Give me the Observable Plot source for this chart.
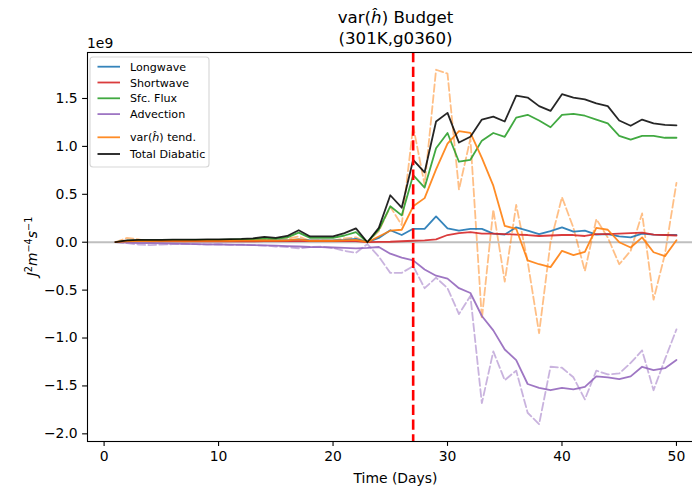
<!DOCTYPE html>
<html>
<head>
<meta charset="utf-8">
<script src="https://cdn.jsdelivr.net/npm/d3@7"></script>
<script src="https://cdn.jsdelivr.net/npm/@observablehq/plot@0.6"></script>
<style>
  html, body { margin: 0; padding: 0; background: white; overflow: hidden; }
  #chart { position: relative; width: 692px; height: 488px; overflow: hidden; }
  #chart svg { max-width: none !important; width: 720px !important; height: 488px !important; display: block; }
</style>
</head>
<body>
<div id="chart"></div>
<script>
// ---- data (values in units of 1e9 J^2 m^-4 s^-1) ----
const days = d3.range(1, 51);

const longwave = [0.0, 0.01, 0.012, 0.012, 0.012, 0.013, 0.013, 0.014, 0.014, 0.015,
  0.015, 0.016, 0.017, 0.02, 0.018, 0.02, 0.03, 0.02, 0.02, 0.02,
  0.025, 0.035, 0.0, 0.045, 0.125, 0.075, 0.14, 0.14, 0.27, 0.145,
  0.12, 0.14, 0.14, 0.09, 0.08, 0.155, 0.12, 0.085, 0.115, 0.155,
  0.11, 0.12, 0.08, 0.085, 0.06, 0.05, 0.09, 0.08, 0.075, 0.075];

const shortwave = [0.0, 0.008, 0.009, 0.009, 0.01, 0.01, 0.01, 0.01, 0.01, 0.01,
  0.01, 0.01, 0.01, 0.011, 0.011, 0.011, 0.012, 0.011, 0.011, 0.011,
  0.011, 0.011, 0.0, 0.003, 0.005, 0.01, 0.015, 0.02, 0.03, 0.075,
  0.095, 0.105, 0.09, 0.09, 0.085, 0.08, 0.075, 0.065, 0.07, 0.075,
  0.075, 0.065, 0.085, 0.085, 0.09, 0.095, 0.1, 0.08, 0.075, 0.07];

const sfcFlux = [0.0, 0.015, 0.02, 0.02, 0.02, 0.022, 0.022, 0.023, 0.024, 0.025,
  0.027, 0.03, 0.032, 0.04, 0.035, 0.05, 0.1, 0.045, 0.045, 0.045,
  0.07, 0.105, 0.0, 0.13, 0.375, 0.28, 0.70, 0.57, 0.98, 1.14,
  0.84, 0.86, 1.06, 1.14, 1.10, 1.30, 1.33, 1.27, 1.20, 1.33,
  1.34, 1.32, 1.28, 1.24, 1.11, 1.07, 1.11, 1.11, 1.09, 1.09];

const advection = [0.0, -0.005, -0.01, -0.01, -0.012, -0.015, -0.017, -0.02, -0.022, -0.024,
  -0.026, -0.028, -0.03, -0.033, -0.036, -0.04, -0.045, -0.05, -0.052, -0.055,
  -0.06, -0.065, -0.06, -0.05, -0.12, -0.16, -0.19, -0.285, -0.35, -0.38,
  -0.48, -0.53, -0.77, -0.92, -1.12, -1.23, -1.48, -1.52, -1.545, -1.52,
  -1.535, -1.51, -1.40, -1.41, -1.43, -1.40, -1.30, -1.335, -1.315, -1.23];

const varTend = [0.0, 0.01, 0.012, 0.012, 0.013, 0.013, 0.014, 0.014, 0.015, 0.015,
  0.015, 0.016, 0.016, 0.018, 0.017, 0.02, 0.03, 0.015, 0.015, 0.015,
  0.02, 0.025, 0.0, 0.06, 0.12, 0.13, 0.375, 0.46, 0.76, 1.03,
  1.16, 1.14, 0.88, 0.59, 0.17, 0.14, -0.19, -0.23, -0.26, -0.09,
  -0.135, -0.10, 0.15, 0.13, 0.0, -0.055, 0.05, -0.105, -0.145, 0.02];

const totalDiabatic = [0.0, 0.02, 0.025, 0.025, 0.025, 0.027, 0.027, 0.028, 0.03, 0.03,
  0.033, 0.035, 0.04, 0.055, 0.045, 0.065, 0.125, 0.06, 0.06, 0.06,
  0.095, 0.145, 0.0, 0.15, 0.49, 0.36, 0.86, 0.73, 1.26, 1.35,
  1.04, 1.10, 1.28, 1.31, 1.26, 1.53, 1.51, 1.42, 1.37, 1.545,
  1.51, 1.49, 1.45, 1.42, 1.27, 1.215, 1.28, 1.24, 1.225, 1.22];

// raw (unsmoothed) series drawn dashed
const varTendRaw = [0.0, 0.045, 0.03, 0.005, 0.01, 0.015, 0.01, 0.015, 0.02, 0.015,
  0.02, 0.02, 0.025, 0.03, 0.02, 0.035, 0.06, 0.015, 0.02, 0.015,
  0.04, 0.05, 0.0, 0.115, 0.37, 0.18, 1.21, 0.60, 1.80, 1.76,
  0.55, 1.08, -0.80, 0.34, -0.41, 0.39, -0.20, -0.95, 0.0, 0.47,
  0.15, -0.30, 0.24, 0.05, -0.23, -0.09, 0.30, -0.60, -0.12, 0.62];

const advectionRaw = [0.0, -0.01, -0.025, -0.03, -0.025, -0.02, -0.02, -0.02, -0.025, -0.02,
  -0.03, -0.025, -0.03, -0.035, -0.045, -0.05, -0.065, -0.05, -0.045, -0.06,
  -0.09, -0.11, -0.02, -0.15, -0.32, -0.32, -0.25, -0.48, -0.37, -0.48,
  -0.75, -0.56, -1.68, -1.14, -1.44, -1.34, -1.78, -1.90, -1.30, -1.31,
  -1.41, -1.64, -1.34, -1.38, -1.37, -1.26, -1.13, -1.545, -1.22, -0.91];

const eventDay = 27;
const xTicks = [0, 10, 20, 30, 40, 50];
const yTicks = [-2.0, -1.5, -1.0, -0.5, 0.0, 0.5, 1.0, 1.5];

const seriesNames = ["Longwave", "Shortwave", "Sfc. Flux", "Advection", "var(ĥ) tend.", "Total Diabatic"];
const seriesColors = ["#1f77b4", "#d62728", "#2ca02c", "#9467bd", "#ff7f0e", "#000000"];
const seriesValues = [longwave, shortwave, sfcFlux, advection, varTend, totalDiabatic];

const toRows = (vals) => vals.map((v, i) => ({day: days[i], value: v}));

const LW = 1.8;
const marks = [
  Plot.ruleY([0], {stroke: "#808080", strokeOpacity: 0.5, strokeWidth: 2}),
  Plot.line(toRows(varTendRaw), {x: "day", y: "value", stroke: "#ff7f0e", strokeOpacity: 0.5, strokeWidth: LW, strokeDasharray: "7.7,3.3"}),
  Plot.line(toRows(advectionRaw), {x: "day", y: "value", stroke: "#9467bd", strokeOpacity: 0.5, strokeWidth: LW, strokeDasharray: "7.7,3.3"}),
  ...seriesValues.map((vals, k) => Plot.line(toRows(vals), {
    x: "day", y: "value", stroke: seriesColors[k], strokeWidth: LW, strokeOpacity: k === 5 ? 0.85 : 0.9
  })),
  Plot.ruleX([eventDay], {stroke: "#ff0000", strokeWidth: 2.6, strokeDasharray: "10.3,4.4"}),
  Plot.frame({stroke: "black", strokeWidth: 1.1}),
  Plot.axisX({ticks: xTicks, tickFormat: d3.format("d"), tickSize: 4.9, tickPadding: 4.9, strokeWidth: 1.1, label: null}),
  Plot.axisY({ticks: yTicks, tickFormat: d3.format(".1f"), tickSize: 4.9, tickPadding: 4.9, strokeWidth: 1.1, label: null})
];

const chart = Plot.plot({
  width: 720,
  height: 488,
  marginLeft: 87,
  marginRight: 16,
  marginTop: 52,
  marginBottom: 47,
  x: {domain: [-1.45, 52.45], axis: null},
  y: {domain: [-2.08, 1.98], axis: null},
  style: {fontFamily: "DejaVu Sans", fontSize: "13.9px", color: "black", background: "white"},
  marks
});

document.getElementById("chart").appendChild(chart);

// ---- annotations: title, axis labels, offset text, legend ----
const svg = d3.select(chart);
const xr = chart.scale("x").range;
const yr = chart.scale("y").range;
const cx = (xr[0] + xr[1]) / 2;
const cy = (yr[0] + yr[1]) / 2;
const font = "DejaVu Sans";

const t1 = svg.append("text").attr("x", cx).attr("y", 23).attr("text-anchor", "middle")
  .attr("font-family", font).attr("font-size", 16.67).attr("fill", "black");
t1.append("tspan").text("var(");
t1.append("tspan").attr("font-style", "italic").text("ĥ");
t1.append("tspan").text(") Budget");

svg.append("text").attr("x", cx).attr("y", 44).attr("text-anchor", "middle")
  .attr("font-family", font).attr("font-size", 16.67).attr("fill", "black")
  .text("(301K,g0360)");

svg.append("text").attr("x", xr[0]).attr("y", 48).attr("text-anchor", "start")
  .attr("font-family", font).attr("font-size", 13.9).attr("fill", "black").text("1e9");

svg.append("text").attr("x", cx).attr("y", 483).attr("text-anchor", "middle")
  .attr("font-family", font).attr("font-size", 13.9).attr("fill", "black").text("Time (Days)");

const yl = svg.append("text").attr("transform", `translate(37,${cy}) rotate(-90)`).attr("text-anchor", "middle")
  .attr("font-family", font).attr("font-size", 13.9).attr("fill", "black");
yl.append("tspan").attr("font-style", "italic").text("J");
yl.append("tspan").attr("font-size", 9.7).attr("dy", -5.5).text("2");
yl.append("tspan").attr("font-style", "italic").attr("dy", 5.5).text("m");
yl.append("tspan").attr("font-size", 9.7).attr("dy", -5.5).text("−4");
yl.append("tspan").attr("font-style", "italic").attr("dy", 5.5).text("s");
yl.append("tspan").attr("font-size", 9.7).attr("dy", -5.5).text("−1");

// legend
const lg = svg.append("g");
lg.append("rect").attr("x", 90).attr("y", 57).attr("width", 119).attr("height", 110).attr("rx", 3)
  .attr("fill", "white").attr("fill-opacity", 0.8).attr("stroke", "#cccccc").attr("stroke-opacity", 0.8).attr("stroke-width", 1.1);
const rowY = [66.7, 82.5, 98.3, 114.1, 137.3, 154];
seriesNames.forEach((name, k) => {
  lg.append("line").attr("x1", 97.5).attr("x2", 120).attr("y1", rowY[k]).attr("y2", rowY[k])
    .attr("stroke", seriesColors[k]).attr("stroke-width", LW).attr("stroke-opacity", 0.9);
  const tx = lg.append("text").attr("x", 130).attr("y", rowY[k] + 4).attr("font-family", font)
    .attr("font-size", 11.1).attr("fill", "black").attr("text-anchor", "start");
  if (name.includes("ĥ")) {
    const parts = name.split("ĥ");
    tx.append("tspan").text(parts[0]);
    tx.append("tspan").attr("font-style", "italic").text("ĥ");
    tx.append("tspan").text(parts[1]);
  } else {
    tx.text(name);
  }
});
</script>
</body>
</html>
